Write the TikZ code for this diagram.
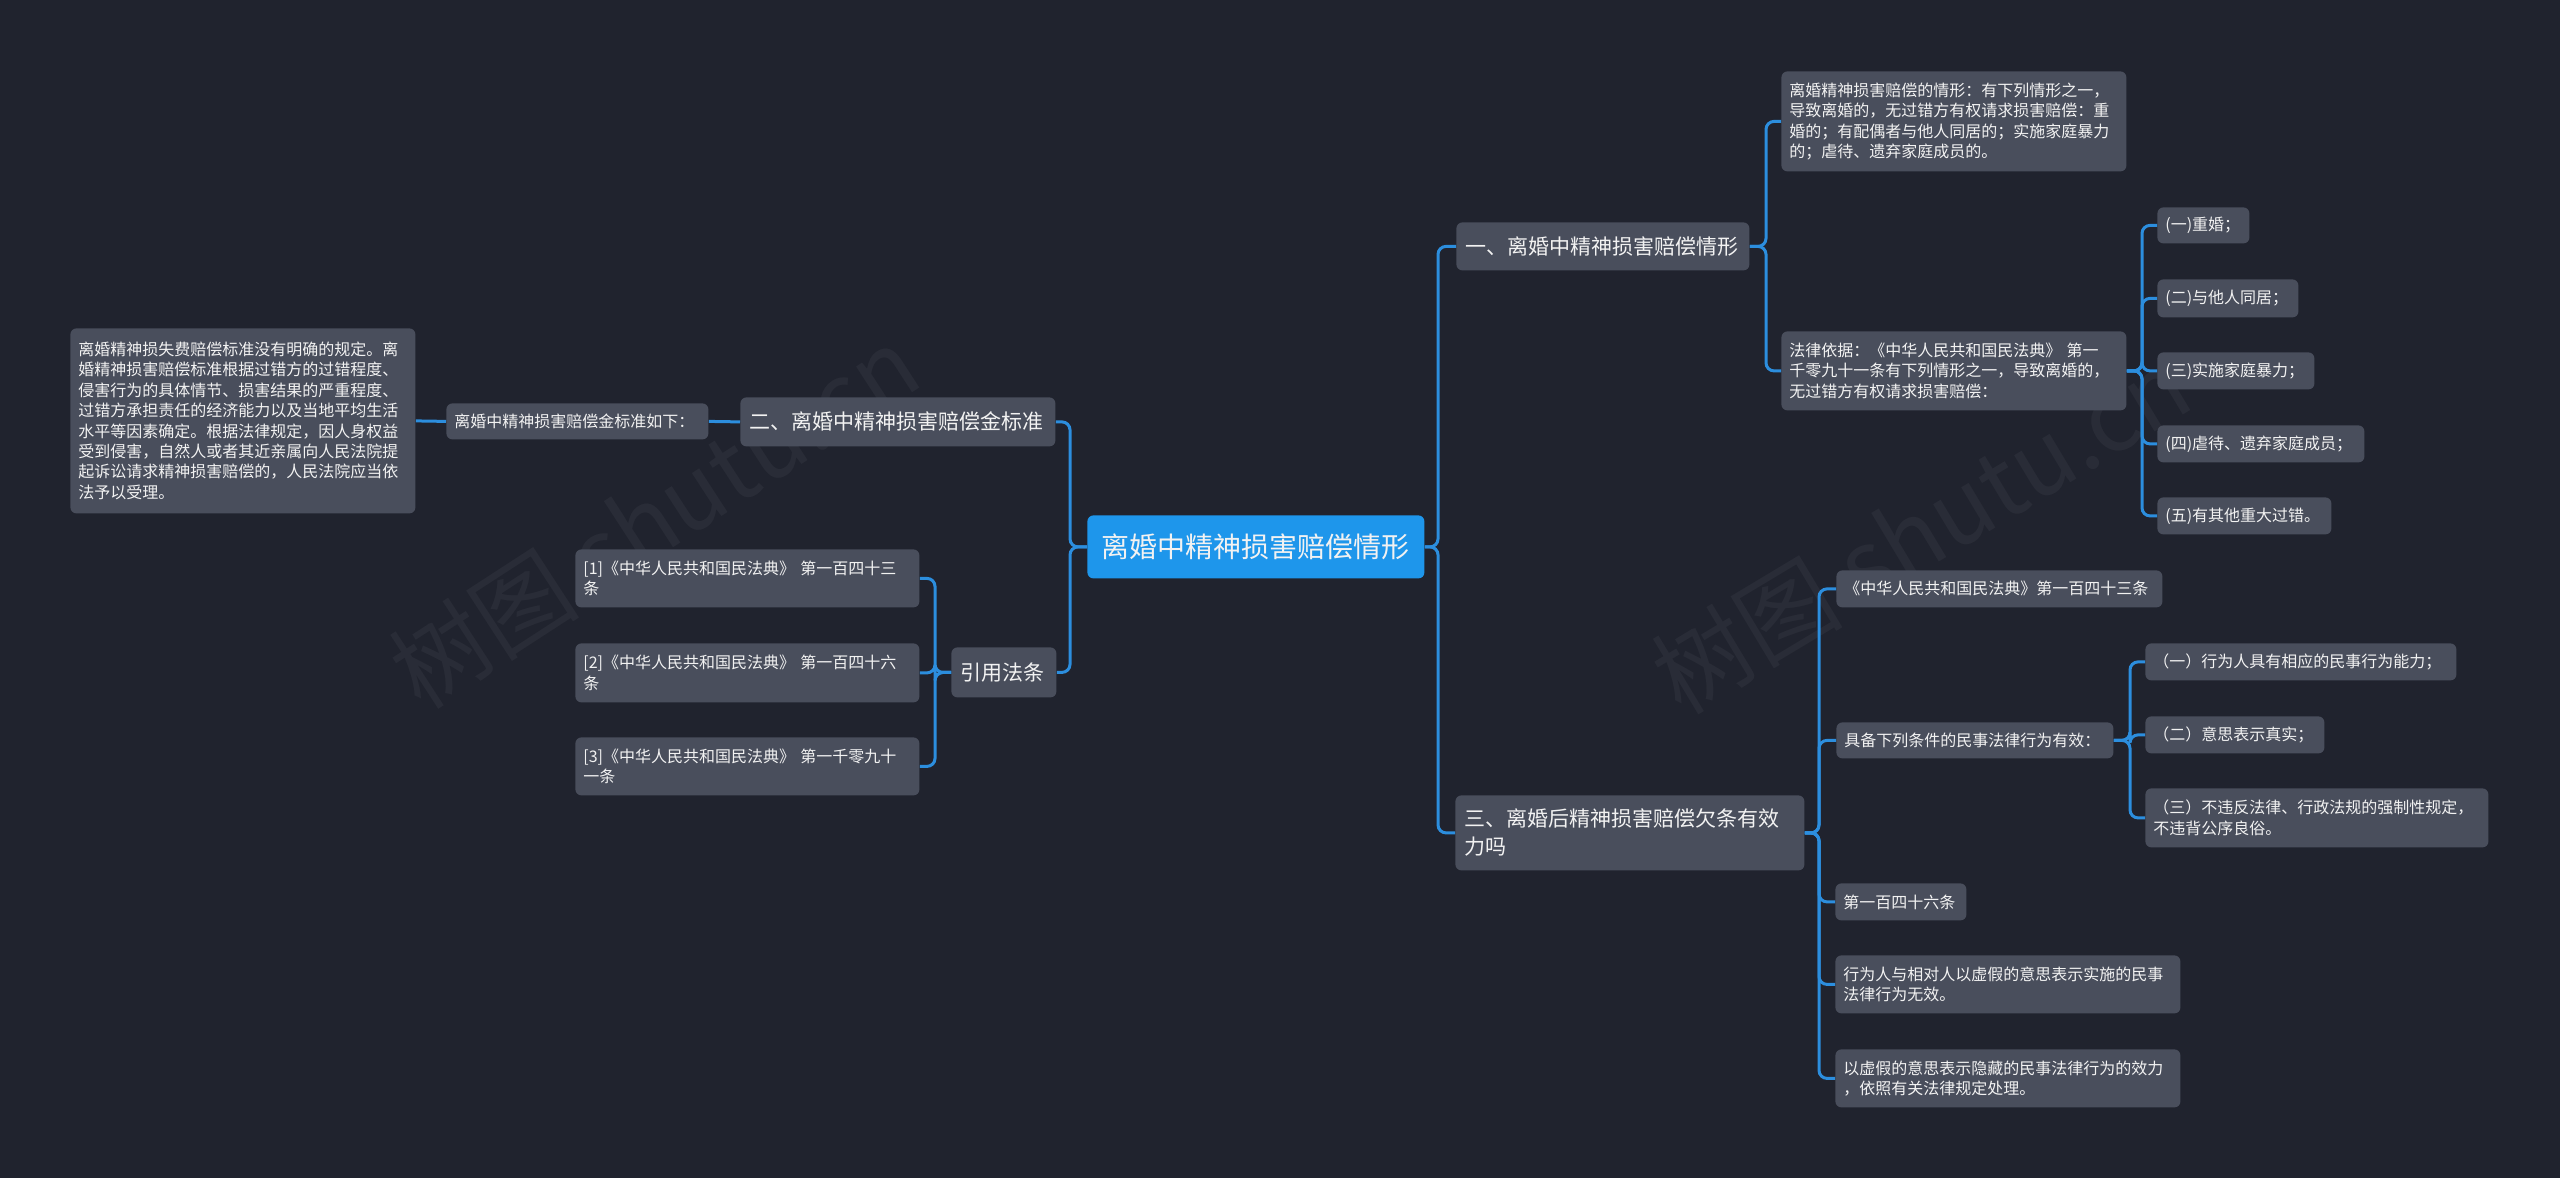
\documentclass[tikz,border=0pt]{standalone}
\usepackage{fontspec}
\setmainfont{Noto Sans CJK SC}
\definecolor{bgc}{RGB}{32,35,46}
\definecolor{nodefill}{RGB}{73,78,92}
\definecolor{rootfill}{RGB}{30,150,235}
\definecolor{linec}{RGB}{44,142,222}
\definecolor{txt}{RGB}{242,242,242}
\begin{document}
\begin{tikzpicture}[x=0.5pt,y=-0.5pt,
  base/.style={fill=nodefill, rounded corners=3pt, text=txt, inner ysep=0pt, align=left, anchor=north west},
  sm/.style={base, font=\fontsize{8}{10.2}\selectfont, inner xsep=4pt},
  md/.style={base, font=\fontsize{10.5}{14}\selectfont, inner xsep=4.5pt},
  rootbox/.style={base, fill=rootfill, align=center, font=\fontsize{14}{16}\selectfont, inner xsep=7pt},
  conn/.style={draw=linec, line width=1.5pt, rounded corners=4pt},
  wm/.style={text=white, opacity=0.045, font=\fontsize{48}{50}\selectfont}
]
\fill[bgc] (0,0) rectangle (2560,1178);
\useasboundingbox (0,0) rectangle (2560,1178);

% watermarks
\node[wm, rotate=33] (wm1) at (654,517) {树图 shutu.cn};
\node[wm, rotate=31] (wm2) at (1921,530) {树图 shutu.cn};

% trunks
\coordinate (tR) at (1438,0);
\coordinate (tL) at (1070,0);
\coordinate (tN1) at (1766,0);
\coordinate (tN1b) at (2142,0);
\coordinate (tN3) at (1819,0);
\coordinate (tC2) at (2130,0);
\coordinate (tN4) at (935,0);

% root
\node[rootbox, minimum width=168.5pt, minimum height=31.5pt, text width=154.5pt] (root) at (1087,515) {离婚中精神损害赔偿情形};

% branch one
\node[md, minimum width=146.5pt, minimum height=24pt, text width=137.5pt] (n1) at (1456,222) {一、离婚中精神损害赔偿情形};
\node[sm, minimum width=172.5pt, minimum height=50pt, text width=164.5pt] (n1a) at (1781,71) {离婚精神损害赔偿的情形：有下列情形之一，\\导致离婚的，无过错方有权请求损害赔偿：重\\婚的；有配偶者与他人同居的；实施家庭暴力\\的；虐待、遗弃家庭成员的。};
\node[sm, minimum width=172.5pt, minimum height=39.5pt, text width=164.5pt] (n1b) at (1781,331) {法律依据：《中华人民共和国民法典》 第一\\千零九十一条有下列情形之一，导致离婚的，\\无过错方有权请求损害赔偿：};
\node[sm, minimum width=46pt, minimum height=18pt, text width=38pt] (i1) at (2157,207) {(一)重婚；};
\node[sm, minimum width=70.5pt, minimum height=19pt, text width=62.5pt] (i2) at (2157,279) {(二)与他人同居；};
\node[sm, minimum width=78.5pt, minimum height=18.5pt, text width=70.5pt] (i3) at (2157,352) {(三)实施家庭暴力；};
\node[sm, minimum width=103.5pt, minimum height=18.5pt, text width=95.5pt] (i4) at (2157,425) {(四)虐待、遗弃家庭成员；};
\node[sm, minimum width=87pt, minimum height=18.5pt, text width=79pt] (i5) at (2157,497) {(五)有其他重大过错。};

% branch three
\node[md, minimum width=174.5pt, minimum height=37.5pt, text width=165.5pt] (n3) at (1455,795) {三、离婚后精神损害赔偿欠条有效\\力吗};
\node[sm, minimum width=163pt, minimum height=18.5pt, text width=155pt] (c1) at (1836,570) {《中华人民共和国民法典》第一百四十三条};
\node[sm, minimum width=138.5pt, minimum height=18pt, text width=130.5pt] (c2) at (1836,722) {具备下列条件的民事法律行为有效：};
\node[sm, minimum width=155.5pt, minimum height=18.5pt, text width=147.5pt] (d1) at (2145,643) {（一）行为人具有相应的民事行为能力；};
\node[sm, minimum width=89.5pt, minimum height=18.5pt, text width=81.5pt] (d2) at (2145,716) {（二）意思表示真实；};
\node[sm, minimum width=171.5pt, minimum height=29.5pt, text width=163.5pt] (d3) at (2145,788) {（三）不违反法律、行政法规的强制性规定，\\不违背公序良俗。};
\node[sm, minimum width=65.5pt, minimum height=18.5pt, text width=57.5pt] (c3) at (1835,883) {第一百四十六条};
\node[sm, minimum width=172.5pt, minimum height=29pt, text width=164.5pt] (c4) at (1835,955) {行为人与相对人以虚假的意思表示实施的民事\\法律行为无效。};
\node[sm, minimum width=172.5pt, minimum height=29pt, text width=164.5pt] (c5) at (1835,1049) {以虚假的意思表示隐藏的民事法律行为的效力\\，依照有关法律规定处理。};

% branch two
\node[md, minimum width=157.5pt, minimum height=24.5pt, text width=148.5pt] (n2) at (740,397) {二、离婚中精神损害赔偿金标准};
\node[sm, minimum width=131pt, minimum height=18pt, text width=123pt] (n2a) at (446,403) {离婚中精神损害赔偿金标准如下：};
\node[sm, minimum width=172.5pt, minimum height=92.5pt, text width=164.5pt] (n2b) at (70,328) {离婚精神损失费赔偿标准没有明确的规定。离\\婚精神损害赔偿标准根据过错方的过错程度、\\侵害行为的具体情节、损害结果的严重程度、\\过错方承担责任的经济能力以及当地平均生活\\水平等因素确定。根据法律规定，因人身权益\\受到侵害，自然人或者其近亲属向人民法院提\\起诉讼请求精神损害赔偿的，人民法院应当依\\法予以受理。};

% cited articles
\node[md, minimum width=52.5pt, minimum height=25pt, text width=43.5pt] (n4) at (951,647) {引用法条};
\node[sm, minimum width=172pt, minimum height=29pt, text width=164pt] (r1) at (575,549) {[1]《中华人民共和国民法典》 第一百四十三\\条};
\node[sm, minimum width=172pt, minimum height=29.5pt, text width=164pt] (r2) at (575,643) {[2]《中华人民共和国民法典》 第一百四十六\\条};
\node[sm, minimum width=172pt, minimum height=29pt, text width=164pt] (r3) at (575,737) {[3]《中华人民共和国民法典》 第一千零九十\\一条};

% connectors
\draw[conn] (root.east) -- (root.east -| tR) |- (n1.west);
\draw[conn] (root.east) -- (root.east -| tR) |- (n3.west);
\draw[conn] (root.west) -- (root.west -| tL) |- (n2.east);
\draw[conn] (root.west) -- (root.west -| tL) |- (n4.east);

\draw[conn] (n2.west) -- (n2a.east);
\draw[conn] (n2a.west) -- (n2b.east);

\foreach \c in {r1,r2,r3}
  \draw[conn] (n4.west) -- (n4.west -| tN4) |- (\c.east);

\foreach \c in {n1a,n1b}
  \draw[conn] (n1.east) -- (n1.east -| tN1) |- (\c.west);

\foreach \c in {i1,i2,i3,i4,i5}
  \draw[conn] (n1b.east) -- (n1b.east -| tN1b) |- (\c.west);

\foreach \c in {c1,c2,c3,c4,c5}
  \draw[conn] (n3.east) -- (n3.east -| tN3) |- (\c.west);

\foreach \c in {d1,d2,d3}
  \draw[conn] (c2.east) -- (c2.east -| tC2) |- (\c.west);
\end{tikzpicture}
\end{document}
